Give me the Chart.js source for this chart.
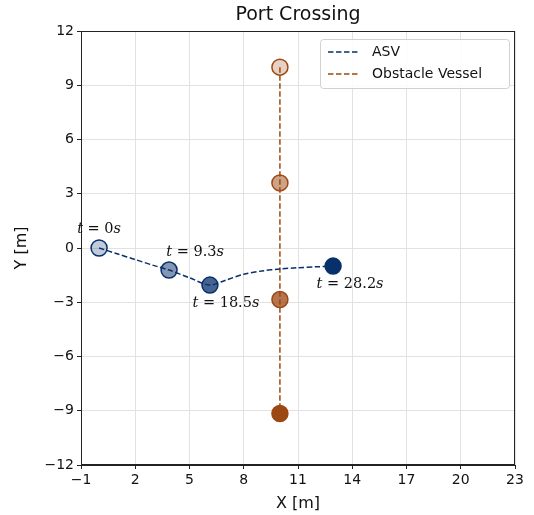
<!DOCTYPE html>
<html>
<head>
<meta charset="utf-8">
<script src="https://cdn.jsdelivr.net/npm/chart.js@4.4.0/dist/chart.umd.min.js"></script>
<style>
    html, body { margin: 0; padding: 0; background: #fff; }
    #wrap { width: 534px; height: 515px; }
</style>
</head>
<body>
<div id="wrap"><canvas id="grafico" width="534" height="515"></canvas></div>
<script>
// Datos
const asvPathX = [0, 1, 2, 3, 3.87, 5, 6.13, 7, 8, 9, 10, 11, 12, 12.94];
const asvPathY = [0, -0.32, -0.64, -0.96, -1.22, -1.65, -2.05, -1.78, -1.45, -1.27, -1.16, -1.09, -1.04, -1.0];
const asvMarkX = [0, 3.87, 6.13, 12.94];
const asvMarkY = [0, -1.22, -2.05, -1.0];
const asvTimes = ['0', '9.3', '18.5', '28.2'];
const obsX = [10, 10, 10, 10];
const obsY = [10, 3.6, -2.85, -9.15];
const alphas = [0.25, 0.5, 0.75, 1];
const xTicks = [-1, 2, 5, 8, 11, 14, 17, 20, 23];
const yTicks = [-12, -9, -6, -3, 0, 3, 6, 9, 12];

const azul = [8, 48, 107];
const cafe = [156, 72, 18];
const rgba = (c, a) => `rgba(${c[0]}, ${c[1]}, ${c[2]}, ${a})`;

const zip = (xs, ys) => xs.map((x, i) => ({ x: x, y: ys[i] }));

// Texto con t y s en cursiva, como en mathtext
function textoTiempo(ctx, valor, cx, cy) {
    const partes = [
        ['t', 'italic 14.5px "DejaVu Serif"'],
        [' = ' + valor, '14.5px "DejaVu Serif"'],
        ['s', 'italic 14.5px "DejaVu Serif"']
    ];
    let total = 0;
    partes.forEach(p => { ctx.font = p[1]; total += ctx.measureText(p[0]).width; });
    let x = cx - total / 2;
    ctx.fillStyle = '#111';
    ctx.textBaseline = 'middle';
    ctx.textAlign = 'left';
    partes.forEach(p => {
        ctx.font = p[1];
        ctx.fillText(p[0], x, cy);
        x += ctx.measureText(p[0]).width;
    });
}

const extras = {
    id: 'extras',
    afterDraw(chart) {
        const { ctx, chartArea: a, scales } = chart;
        ctx.save();

        // marco completo
        ctx.strokeStyle = '#222';
        ctx.lineWidth = 1;
        ctx.strokeRect(a.left + 0.5, a.top + 0.5, a.right - a.left - 1, a.bottom - a.top - 1);

        // título
        ctx.fillStyle = '#111';
        ctx.font = '19px "DejaVu Sans"';
        ctx.textAlign = 'center';
        ctx.textBaseline = 'middle';
        ctx.fillText('Port Crossing', (a.left + a.right) / 2, 15);

        // etiquetas de tiempo
        asvMarkX.forEach((x, i) => {
            const px = scales.x.getPixelForValue(x);
            const py = scales.y.getPixelForValue(asvMarkY[i]);
            const d = [[0, -19], [26, -18], [16, 18], [17, 18]][i];
            textoTiempo(ctx, asvTimes[i], px + d[0], py + d[1]);
        });

        // leyenda
        const bx = a.right - 195, by = a.top + 8, bw = 189, bh = 49;
        ctx.fillStyle = 'rgba(255,255,255,0.85)';
        ctx.strokeStyle = '#d0d0d0';
        ctx.lineWidth = 1;
        ctx.beginPath();
        ctx.roundRect(bx + 0.5, by + 0.5, bw, bh, 3);
        ctx.fill();
        ctx.stroke();
        const items = [['ASV', rgba(azul, 1)], ['Obstacle Vessel', rgba(cafe, 1)]];
        items.forEach((it, i) => {
            const yy = by + 13 + i * 22;
            ctx.strokeStyle = it[1];
            ctx.lineWidth = 1.5;
            ctx.setLineDash([5.5, 2.5]);
            ctx.beginPath();
            ctx.moveTo(bx + 8, yy);
            ctx.lineTo(bx + 38, yy);
            ctx.stroke();
            ctx.setLineDash([]);
            ctx.fillStyle = '#111';
            ctx.font = '14px "DejaVu Sans"';
            ctx.textAlign = 'left';
            ctx.textBaseline = 'middle';
            ctx.fillText(it[0], bx + 52, yy);
        });
        ctx.restore();
    }
};

const ctx = document.getElementById('grafico');

new Chart(ctx, {
    type: 'scatter',
    data: {
        datasets: [
            {
                label: 'ASV marcadores',
                data: zip(asvMarkX, asvMarkY),
                pointRadius: 8,
                pointBorderWidth: 1.5,
                pointBackgroundColor: alphas.map(al => rgba(azul, al)),
                pointBorderColor: rgba(azul, 1),
                showLine: false,
                order: 0
            },
            {
                label: 'Obstacle marcadores',
                data: zip(obsX, obsY),
                pointRadius: 8,
                pointBorderWidth: 1.5,
                pointBackgroundColor: alphas.map(al => rgba(cafe, al)),
                pointBorderColor: rgba(cafe, 1),
                showLine: false,
                order: 0
            },
            {
                label: 'ASV',
                data: zip(asvPathX, asvPathY),
                showLine: true,
                borderColor: rgba(azul, 1),
                borderWidth: 1.5,
                borderDash: [5.5, 2.5],
                pointRadius: 0,
                tension: 0.3,
                order: 1
            },
            {
                label: 'Obstacle Vessel',
                data: zip(obsX, obsY),
                showLine: true,
                borderColor: rgba(cafe, 1),
                borderWidth: 1.5,
                borderDash: [5.5, 2.5],
                pointRadius: 0,
                order: 1
            }
        ]
    },
    options: {
        responsive: false,
        animation: false,
        layout: { padding: { top: 31, right: 19, left: 12, bottom: 2 } },
        plugins: {
            legend: { display: false },
            tooltip: { enabled: false }
        },
        scales: {
            x: {
                type: 'linear',
                min: -1,
                max: 23,
                afterBuildTicks: s => { s.ticks = xTicks.map(v => ({ value: v })); },
                afterFit: s => { s.height = 48; },
                grid: { color: '#e2e2e2', tickColor: '#222', tickLength: 4 },
                border: { color: '#222' },
                ticks: {
                    color: '#111',
                    font: { family: 'DejaVu Sans', size: 14 },
                    padding: 3,
                    callback: v => String(v).replace('-', '\u2212')
                },
                title: {
                    display: true,
                    text: 'X [m]',
                    color: '#111',
                    font: { family: 'DejaVu Sans', size: 16 },
                    padding: { top: 2, bottom: 0 }
                }
            },
            y: {
                type: 'linear',
                min: -12,
                max: 12,
                afterBuildTicks: s => { s.ticks = yTicks.map(v => ({ value: v })); },
                afterFit: s => { s.width = 69; },
                grid: { color: '#e2e2e2', tickColor: '#222', tickLength: 4 },
                border: { color: '#222' },
                ticks: {
                    color: '#111',
                    font: { family: 'DejaVu Sans', size: 14 },
                    padding: 3,
                    callback: v => String(v).replace('-', '\u2212')
                },
                title: {
                    display: true,
                    text: 'Y [m]',
                    color: '#111',
                    font: { family: 'DejaVu Sans', size: 16 },
                    padding: { top: 0, bottom: 4 }
                }
            }
        }
    },
    plugins: [extras]
});
</script>
</body>
</html>
